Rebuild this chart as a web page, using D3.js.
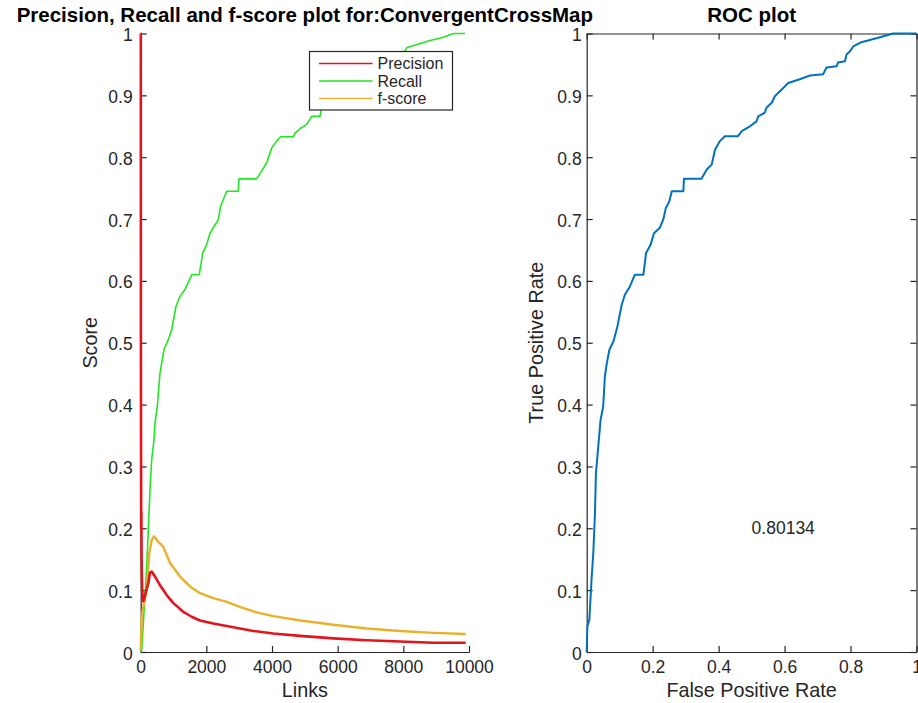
<!DOCTYPE html>
<html>
<head>
<meta charset="utf-8">
<script src="https://cdn.jsdelivr.net/npm/d3@7"></script>
<style>
  body { margin: 0; background: #fff; }
  svg text { font-family: "Liberation Sans", Arial, sans-serif; fill: #262626; }
</style>
</head>
<body>
<div id="chart-area"></div>
<script>
// values
const precisionLinks = [0, 3, 6, 10, 15, 20, 26, 32, 40, 55, 75, 100, 131, 231, 283, 335, 436, 588, 792, 993, 1298, 1553, 1806, 2211, 2820, 3430, 4039, 4852, 5867, 6884, 7898, 8913, 9900];
const precisionVals = [1, 1, 0.5, 0.33, 0.2, 0.227, 0.16, 0.13, 0.11, 0.09, 0.082, 0.085, 0.092, 0.111, 0.128, 0.130, 0.122, 0.108, 0.092, 0.079, 0.065, 0.057, 0.051, 0.046, 0.040, 0.034, 0.030, 0.026, 0.022, 0.019, 0.017, 0.015, 0.015];

const recallLinks = [0, 30, 80, 183, 231, 283, 335, 405, 436, 506, 588, 710, 841, 944, 1075, 1197, 1349, 1553, 1785, 1888, 2010, 2111, 2211, 2364, 2437, 2620, 2973, 2994, 3533, 3686, 3838, 3990, 4143, 4264, 4648, 4700, 4852, 5056, 5209, 5461, 5500, 5610, 5710, 5960, 6110, 6460, 6770, 7170, 7270, 7580, 7620, 7830, 7880, 7980, 8050, 8103, 8761, 9218, 9523, 9878];
const recallVals = [0, 0.003, 0.046, 0.138, 0.197, 0.262, 0.311, 0.343, 0.370, 0.397, 0.451, 0.489, 0.505, 0.521, 0.559, 0.575, 0.586, 0.610, 0.610, 0.645, 0.659, 0.677, 0.686, 0.699, 0.721, 0.745, 0.745, 0.765, 0.765, 0.778, 0.791, 0.815, 0.826, 0.833, 0.833, 0.839, 0.846, 0.853, 0.866, 0.866, 0.877, 0.888, 0.899, 0.912, 0.920, 0.926, 0.932, 0.934, 0.945, 0.947, 0.953, 0.955, 0.966, 0.971, 0.971, 0.977, 0.988, 0.994, 1.0, 1.0];

const fscoreLinks = [0, 30, 80, 183, 262, 335, 405, 536, 689, 893, 1197, 1502, 1806, 2211, 2620, 3025, 3533, 4039, 4852, 5867, 6884, 7898, 8913, 9900];
const fscoreVals = [0.003, 0.057, 0.073, 0.100, 0.160, 0.181, 0.187, 0.178, 0.170, 0.144, 0.122, 0.106, 0.095, 0.087, 0.081, 0.073, 0.064, 0.058, 0.051, 0.044, 0.038, 0.034, 0.031, 0.029];

const rocFpr = [0, 0.002, 0.008, 0.015, 0.020, 0.025, 0.028, 0.035, 0.042, 0.050, 0.055, 0.061, 0.069, 0.081, 0.093, 0.106, 0.116, 0.131, 0.146, 0.172, 0.180, 0.194, 0.204, 0.222, 0.232, 0.240, 0.250, 0.258, 0.293, 0.295, 0.348, 0.364, 0.379, 0.389, 0.404, 0.419, 0.459, 0.470, 0.495, 0.515, 0.520, 0.540, 0.545, 0.561, 0.571, 0.596, 0.611, 0.646, 0.677, 0.717, 0.727, 0.758, 0.762, 0.783, 0.788, 0.798, 0.808, 0.833, 0.884, 0.929, 1.0];
const rocTpr = [0, 0.041, 0.052, 0.120, 0.160, 0.224, 0.289, 0.332, 0.375, 0.397, 0.445, 0.467, 0.489, 0.502, 0.526, 0.561, 0.578, 0.591, 0.610, 0.610, 0.645, 0.659, 0.677, 0.686, 0.699, 0.718, 0.728, 0.745, 0.745, 0.765, 0.765, 0.780, 0.788, 0.812, 0.826, 0.834, 0.834, 0.842, 0.850, 0.858, 0.866, 0.872, 0.880, 0.888, 0.899, 0.912, 0.920, 0.926, 0.932, 0.934, 0.945, 0.947, 0.953, 0.955, 0.966, 0.971, 0.979, 0.986, 0.993, 1.0, 1.0];

const aucLabel = "0.80134";
const seriesNames = ["Precision", "Recall", "f-score"];
const scoreTicks = [0, 0.1, 0.2, 0.3, 0.4, 0.5, 0.6, 0.7, 0.8, 0.9, 1];
const linkTicks = [0, 2000, 4000, 6000, 8000, 10000];
const rateTicks = [0, 0.2, 0.4, 0.6, 0.8, 1];

const width = 918;
const height = 703;
const axisColor = "#262626";
const colors = ["#e3141c", "#22e622", "#ebb02a"];
const tickFmt = d3.format("~g");

const svg = d3.select("#chart-area")
    .append("svg")
        .attr("width", width)
        .attr("height", height);

const yTop = 33.5, yBottom = 652;

// ---------- left plot ----------
const xLinks = d3.scaleLinear().domain([0, 10000]).range([140.7, 469]);
const yScore = d3.scaleLinear().domain([0, 1]).range([yBottom, yTop]);

function styleAxis(g, fontSize) {
    g.selectAll("path.domain").attr("stroke", axisColor).attr("stroke-width", 1.2);
    g.selectAll(".tick line").attr("stroke", axisColor).attr("stroke-width", 1.2);
    g.selectAll(".tick text")
        .attr("fill", axisColor)
        .style("font-family", '"Liberation Sans", Arial, sans-serif')
        .style("font-size", fontSize + "px");
}

svg.append("g")
    .attr("transform", `translate(0, ${yBottom})`)
    .call(d3.axisBottom(xLinks).tickValues(linkTicks).tickFormat(tickFmt)
        .tickSizeInner(-6).tickSizeOuter(0).tickPadding(9))
    .call(g => styleAxis(g, 17.5));

svg.append("g")
    .attr("transform", `translate(${xLinks(0)}, 0)`)
    .call(d3.axisLeft(yScore).tickValues(scoreTicks).tickFormat(tickFmt)
        .tickSizeInner(-6).tickSizeOuter(0).tickPadding(8))
    .call(g => styleAxis(g, 17.5))
    .call(g => g.selectAll(".tick text").attr("dy", "0.4em"));

const leftSeries = [
    { name: seriesNames[0], x: precisionLinks, y: precisionVals, color: colors[0], w: 2.6 },
    { name: seriesNames[1], x: recallLinks, y: recallVals, color: colors[1], w: 1.6 },
    { name: seriesNames[2], x: fscoreLinks, y: fscoreVals, color: colors[2], w: 2.4 }
];

const scoreLine = d3.line()
    .x(d => xLinks(d[0]))
    .y(d => yScore(d[1]));

// draw recall first, then f-score, precision on top like the original
[1, 2, 0].forEach(i => {
    const s = leftSeries[i];
    svg.append("path")
        .datum(d3.zip(s.x, s.y))
        .attr("fill", "none")
        .attr("stroke", s.color)
        .attr("stroke-width", s.w)
        .attr("stroke-linejoin", "round")
        .attr("d", scoreLine);
});

// legend
const legend = svg.append("g").attr("transform", "translate(309.5, 51.5)");
legend.append("rect")
    .attr("width", 143)
    .attr("height", 58.5)
    .attr("fill", "#fff")
    .attr("stroke", axisColor)
    .attr("stroke-width", 1.2);
leftSeries.forEach((s, i) => {
    const row = legend.append("g").attr("transform", `translate(0, ${12 + i * 17.5})`);
    row.append("line")
        .attr("x1", 9.5).attr("x2", 63)
        .attr("stroke", s.color)
        .attr("stroke-width", 1.6);
    row.append("text")
        .attr("x", 68)
        .attr("dy", "0.35em")
        .style("font-size", "16px")
        .text(s.name);
});

svg.append("text")
    .attr("x", (xLinks(0) + xLinks(10000)) / 2)
    .attr("y", 697)
    .attr("text-anchor", "middle")
    .style("font-size", "19.8px")
    .text("Links");

svg.append("text")
    .attr("transform", `translate(97, ${(yTop + yBottom) / 2}) rotate(-90)`)
    .attr("text-anchor", "middle")
    .style("font-size", "19.8px")
    .text("Score");

svg.append("text")
    .attr("x", (xLinks(0) + xLinks(10000)) / 2)
    .attr("y", 22)
    .attr("text-anchor", "middle")
    .attr("font-weight", "bold")
    .style("font-size", "20.5px")
    .style("fill", "#000")
    .text("Precision, Recall and f-score plot for:ConvergentCrossMap");

// ---------- right plot (ROC) ----------
const xRate = d3.scaleLinear().domain([0, 1]).range([586.7, 916.5]);
const yRate = d3.scaleLinear().domain([0, 1]).range([yBottom, yTop]);

svg.append("g")
    .attr("transform", `translate(0, ${yBottom})`)
    .call(d3.axisBottom(xRate).tickValues(rateTicks).tickFormat(tickFmt)
        .tickSizeInner(-6).tickSizeOuter(0).tickPadding(9))
    .call(g => styleAxis(g, 17.5));

svg.append("g")
    .attr("transform", `translate(0, ${yTop})`)
    .call(d3.axisTop(xRate).tickValues(rateTicks).tickFormat("")
        .tickSizeInner(-6).tickSizeOuter(0))
    .call(g => styleAxis(g, 17.5));

svg.append("g")
    .attr("transform", `translate(${xRate(0)}, 0)`)
    .call(d3.axisLeft(yRate).tickValues(scoreTicks).tickFormat(tickFmt)
        .tickSizeInner(-6).tickSizeOuter(0).tickPadding(5))
    .call(g => styleAxis(g, 17.5))
    .call(g => g.selectAll(".tick text").attr("dy", "0.4em"));

svg.append("g")
    .attr("transform", `translate(${xRate(1)}, 0)`)
    .call(d3.axisRight(yRate).tickValues(scoreTicks).tickFormat("")
        .tickSizeInner(-6).tickSizeOuter(0))
    .call(g => styleAxis(g, 17.5));

svg.append("path")
    .datum(d3.zip(rocFpr, rocTpr))
    .attr("fill", "none")
    .attr("stroke", "#0072bd")
    .attr("stroke-width", 2)
    .attr("stroke-linejoin", "round")
    .attr("d", d3.line()
        .x(d => xRate(d[0]))
        .y(d => yRate(d[1])));

svg.append("text")
    .attr("x", xRate(0.5))
    .attr("y", yRate(0.2))
    .attr("dy", "0.35em")
    .style("font-size", "17.5px")
    .text(aucLabel);

svg.append("text")
    .attr("x", (xRate(0) + xRate(1)) / 2)
    .attr("y", 697)
    .attr("text-anchor", "middle")
    .style("font-size", "19.8px")
    .text("False Positive Rate");

svg.append("text")
    .attr("transform", `translate(543, ${(yTop + yBottom) / 2}) rotate(-90)`)
    .attr("text-anchor", "middle")
    .style("font-size", "19.8px")
    .text("True Positive Rate");

svg.append("text")
    .attr("x", (xRate(0) + xRate(1)) / 2)
    .attr("y", 22)
    .attr("text-anchor", "middle")
    .attr("font-weight", "bold")
    .style("font-size", "20.5px")
    .style("fill", "#000")
    .text("ROC plot");
</script>
</body>
</html>
